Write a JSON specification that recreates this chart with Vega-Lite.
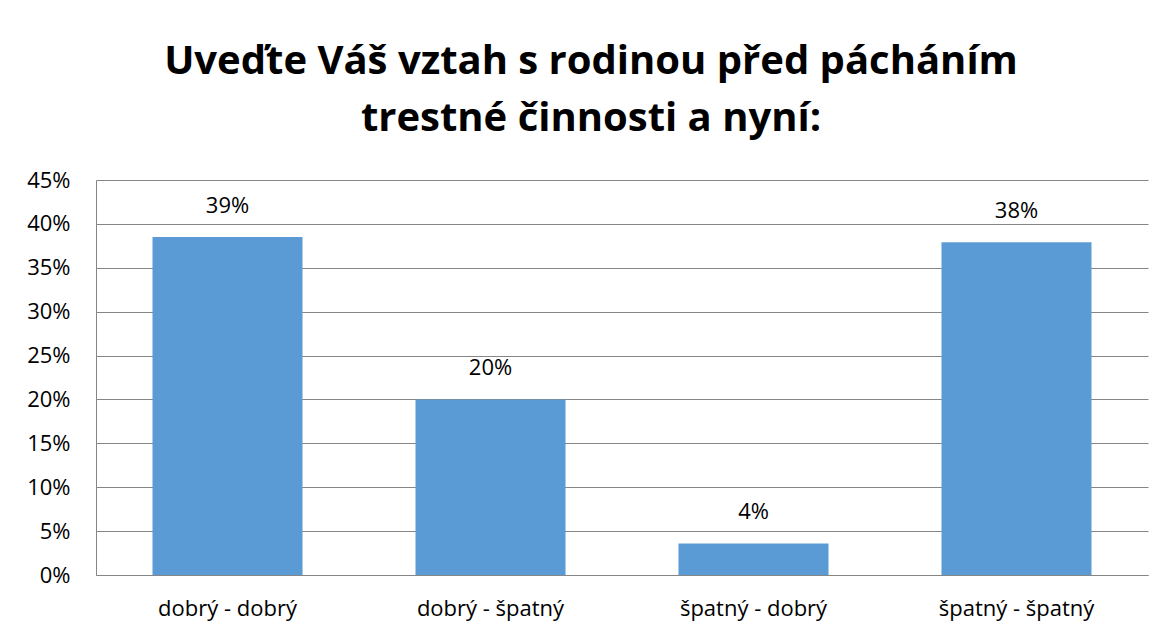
{
  "$schema": "https://vega.github.io/schema/vega-lite/v6.json",
  "width": 1052,
  "height": 395,
  "autosize": {"type": "none"},
  "padding": {"left": 96, "top": 180, "right": 20, "bottom": 59},
  "background": "white",
  "title": {
    "text": ["Uveďte Váš vztah s rodinou před pácháním", "trestné činnosti a nyní:"],
    "font": "Open Sans",
    "fontSize": 40,
    "fontWeight": "bold",
    "color": "#000000",
    "lineHeight": 57,
    "anchor": "middle",
    "dx": -31,
    "offset": 30
  },
  "data": {
    "values": [
      {"kategorie": "dobrý - dobrý", "podil": 0.385, "stitek": "39%"},
      {"kategorie": "dobrý - špatný", "podil": 0.200, "stitek": "20%"},
      {"kategorie": "špatný - dobrý", "podil": 0.036, "stitek": "4%"},
      {"kategorie": "špatný - špatný", "podil": 0.379, "stitek": "38%"}
    ]
  },
  "encoding": {
    "x": {
      "field": "kategorie",
      "type": "nominal",
      "sort": null,
      "title": null,
      "scale": {"paddingInner": 0.4296, "paddingOuter": 0.2148},
      "axis": {
        "labelAngle": 0,
        "labelFont": "Open Sans",
        "labelFontSize": 22,
        "labelColor": "#000000",
        "labelBaseline": "alphabetic",
        "labelPadding": 40,
        "ticks": false,
        "domainColor": "#868686",
        "domainWidth": 1
      }
    },
    "y": {
      "field": "podil",
      "type": "quantitative",
      "title": null,
      "scale": {"domain": [0, 0.45], "nice": false},
      "axis": {
        "format": ".0%",
        "values": [0, 0.05, 0.1, 0.15, 0.2, 0.25, 0.3, 0.35, 0.4, 0.45],
        "labelFont": "Open Sans",
        "labelFontSize": 22,
        "labelColor": "#000000",
        "labelPadding": 26,
        "ticks": false,
        "domain": true,
        "domainColor": "#868686",
        "grid": true,
        "gridColor": "#868686",
        "gridWidth": 1
      }
    }
  },
  "layer": [
    {"mark": {"type": "bar", "color": "#5B9BD5"}},
    {
      "mark": {"type": "text", "font": "Open Sans", "fontSize": 22, "color": "#000000", "baseline": "alphabetic", "dy": -24},
      "encoding": {"text": {"field": "stitek"}}
    }
  ],
  "config": {"view": {"stroke": null}}
}
